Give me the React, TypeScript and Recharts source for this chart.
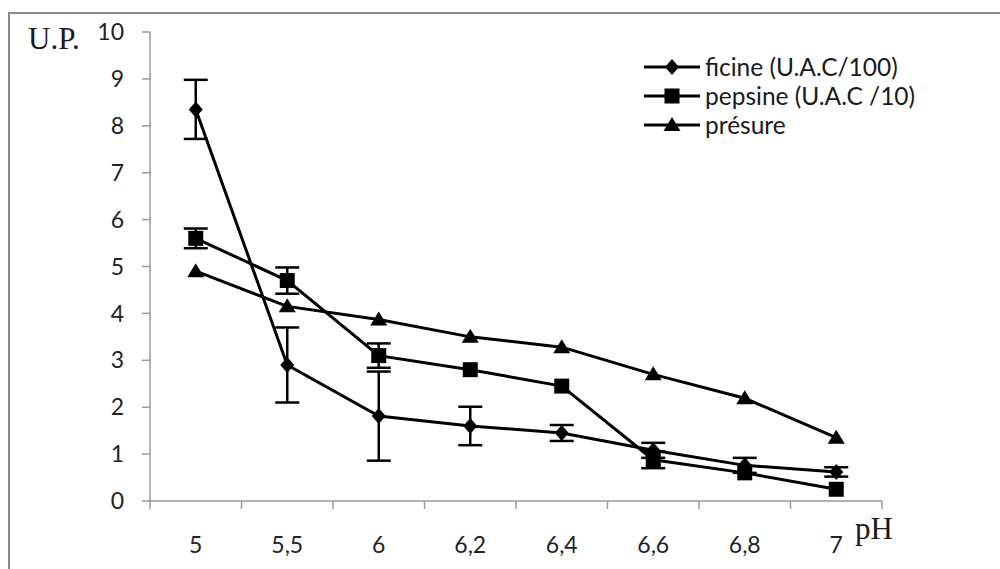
import React from 'react';
import { LineChart, Line, XAxis, YAxis, ErrorBar, Legend } from 'recharts';

// pH categories (Excel style, comma decimals)
const phLabels = ['5', '5,5', '6', '6,2', '6,4', '6,6', '6,8', '7'];
const yTicks = [0, 1, 2, 3, 4, 5, 6, 7, 8, 9, 10];

const ficine = [8.35, 2.9, 1.81, 1.6, 1.45, 1.08, 0.76, 0.62];
const ficineErr = [0.63, 0.8, 0.95, 0.41, 0.17, 0.16, 0.16, 0.1];
const pepsine = [5.6, 4.7, 3.1, 2.8, 2.45, 0.88, 0.6, 0.25];
const pepsineErr = [0.21, 0.28, 0.26, 0, 0, 0.18, 0, 0];
const presure = [4.9, 4.15, 3.87, 3.5, 3.28, 2.7, 2.19, 1.35];

const data = phLabels.map((ph, i) => ({
  ph,
  ficine: ficine[i],
  ficineErr: ficineErr[i],
  pepsine: pepsine[i],
  pepsineErr: pepsineErr[i],
  presure: presure[i],
}));

const FONT = 'Lato, "Open Sans", sans-serif';
const SERIF = '"Liberation Serif", "DejaVu Serif", serif';
const AXIS = '#9a9a9a';

const diamond = (cx: number, cy: number) => `M${cx},${cy - 8} L${cx + 7},${cy} L${cx},${cy + 8} L${cx - 7},${cy} Z`;
const square = (cx: number, cy: number) => `M${cx - 7.5},${cy - 7.5} h15 v15 h-15 Z`;
const triangle = (cx: number, cy: number) => `M${cx},${cy - 8} L${cx + 8.5},${cy + 6} L${cx - 8.5},${cy + 6} Z`;

const makeDot = (shape: (cx: number, cy: number) => string) => (props: any) => {
  const { cx, cy, index } = props;
  if (cx == null || cy == null) return <g key={index} />;
  return <path key={index} d={shape(cx, cy)} fill="#000" stroke="none" />;
};

const legendItems = [
  { label: 'ficine (U.A.C/100)', shape: diamond },
  { label: 'pepsine (U.A.C /10)', shape: square },
  { label: 'présure', shape: triangle },
];

const renderLegend = () => (
  <div style={{ fontFamily: FONT, fontSize: 24.5, color: '#1a1a1a' }}>
    {legendItems.map((it) => (
      <div key={it.label} style={{ display: 'flex', alignItems: 'center', height: 29 }}>
        <svg width={62} height={20} style={{ flex: 'none' }}>
          <line x1={1} y1={10} x2={57} y2={10} stroke="#000" strokeWidth={3} />
          <path d={it.shape(29, 10)} fill="#000" />
        </svg>
        <span style={{ lineHeight: '29px' }}>{it.label}</span>
      </div>
    ))}
  </div>
);

const XTick = (props: any) => {
  const { x, y, payload, index } = props;
  const half = payload.offset || 45.75;
  const axisY = y - 35;
  const isLast = index === phLabels.length - 1;
  return (
    <g>
      <line x1={x - half} y1={axisY} x2={x - half} y2={axisY + 8} stroke={AXIS} strokeWidth={1.5} />
      {isLast && <line x1={x + half} y1={axisY} x2={x + half} y2={axisY + 8} stroke={AXIS} strokeWidth={1.5} />}
      <text x={x} y={y} dy="0.72em" textAnchor="middle" fontFamily={FONT} fontSize={23} fill="#222">
        {payload.value}
      </text>
    </g>
  );
};

export default function App() {
  return (
    <div style={{ position: 'absolute', left: 0, top: 0, width: 1000, height: 569, background: '#fff', overflow: 'hidden' }}>
      <div style={{ position: 'absolute', left: 8, top: 12, width: 1000, height: 600, borderTop: '2px solid #8a8a8a', borderLeft: '2px solid #8a8a8a' }} />
      <div style={{ position: 'absolute', left: 28, top: 21, fontFamily: SERIF, fontSize: 31, color: '#1a1a1a' }}>U.P.</div>
      <div style={{ position: 'absolute', left: 855, top: 511, fontFamily: SERIF, fontSize: 31, color: '#1a1a1a' }}>pH</div>
      <div style={{ position: 'absolute', left: 0, top: 0 }}>
        <LineChart width={1000} height={569} data={data} margin={{ top: 32, right: 118, bottom: 28, left: 90 }}>
          <XAxis
            dataKey="ph"
            scale="band"
            height={40}
            stroke={AXIS}
            strokeWidth={1.5}
            tickLine={false}
            tickSize={8}
            tickMargin={27}
            interval={0}
            tick={<XTick />}
          />
          <YAxis
            domain={[0, 10]}
            ticks={yTicks}
            width={60}
            stroke={AXIS}
            strokeWidth={1.5}
            tickSize={8}
            tickMargin={18}
            interval={0}
            tick={{ fontFamily: FONT, fontSize: 23, fill: '#222' }}
          />
          <Legend
            verticalAlign="middle"
            align="center"
            layout="horizontal"
            content={renderLegend}
            wrapperStyle={{ top: 52, left: 643, width: 320 }}
          />
          <Line
            dataKey="ficine"
            name="ficine (U.A.C/100)"
            stroke="#000"
            strokeWidth={3}
            dot={makeDot(diamond)}
            activeDot={false}
            isAnimationActive={false}
          >
            <ErrorBar dataKey="ficineErr" width={12} stroke="#000" strokeWidth={2.5} />
          </Line>
          <Line
            dataKey="pepsine"
            name="pepsine (U.A.C /10)"
            stroke="#000"
            strokeWidth={3}
            dot={makeDot(square)}
            activeDot={false}
            isAnimationActive={false}
          >
            <ErrorBar dataKey="pepsineErr" width={12} stroke="#000" strokeWidth={2.5} />
          </Line>
          <Line
            dataKey="presure"
            name="présure"
            stroke="#000"
            strokeWidth={3}
            dot={makeDot(triangle)}
            activeDot={false}
            isAnimationActive={false}
          />
        </LineChart>
      </div>
    </div>
  );
}
